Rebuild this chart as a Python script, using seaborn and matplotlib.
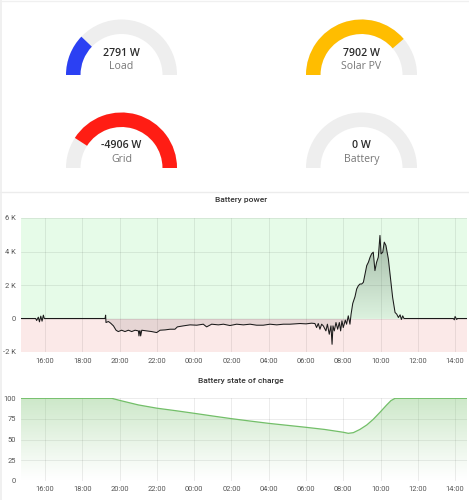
import numpy as np
import pandas as pd
import matplotlib
matplotlib.use("Agg")
import matplotlib.pyplot as plt
from matplotlib.patches import Wedge, PathPatch
import seaborn as sns

# ---------------- data ----------------
gauge_labels = ["Load", "Solar PV", "Grid", "Battery"]
gauge_values = [2791, 7902, -4906, 0]
gauge_min = [0, 0, -6000, -5000]
gauge_max = [11500, 10200, 0, 5000]
gauge_colors = ["#2b40f3", "#ffbd00", "#ff1d14", "#eeeeee"]

power_t = [14.71, 15.50, 15.55, 15.64, 15.70, 15.77, 15.84, 15.91, 15.96, 17.0, 18.5,
           19.22, 19.25, 19.27, 19.40, 19.52, 19.67, 19.81, 19.93, 20.11, 20.29, 20.47,
           20.65, 20.83, 21.01, 21.04, 21.07, 21.10, 21.13, 21.19, 21.45, 21.72, 21.99,
           22.17, 22.44, 22.71, 22.97, 23.10, 23.42, 23.78, 24.14, 24.49, 24.67, 24.94,
           25.30, 25.57, 25.92, 26.28, 26.64, 27.00, 27.35, 27.71, 28.07, 28.43, 28.79,
           29.14, 29.68, 30.00, 30.30, 30.48, 30.57, 30.66, 30.75, 30.84, 30.93, 31.07,
           31.15, 31.25, 31.34, 31.40, 31.45, 31.52, 31.61, 31.70, 31.79, 31.86, 31.93,
           32.00, 32.11, 32.18, 32.27, 32.36, 32.42, 32.51, 32.63, 32.72, 32.81, 32.90,
           32.99, 33.08, 33.17, 33.26, 33.35, 33.44, 33.52, 33.61, 33.70, 33.79, 33.88,
           33.97, 34.03, 34.12, 34.20, 34.29, 34.42, 34.54, 34.65, 34.78, 34.87, 34.96,
           35.05, 35.12, 35.19, 35.26, 36.50, 37.91, 37.96, 38.00, 38.09, 38.12, 38.64]
power_w = [0, 0, -120, 80, -200, 140, -160, 200, 0, 0, 0,
           0, 200, -240, -180, -280, -440, -700, -780, -700, -780, -700,
           -780, -700, -740, -1040, -740, -740, -1040, -700, -740, -780, -840,
           -700, -680, -640, -640, -500, -440, -380, -400, -340, -500, -340,
           -380, -340, -420, -340, -380, -340, -400, -400, -340, -380, -340,
           -340, -300, -320, -280, -300, -540, -300, -640, -340, -440, -740,
           -340, -940, -440, -1540, -440, -740, -240, -640, -240, -740, -140,
           -540, -100, -340, 160, -340, 260, 900, 1300, 1760, 1960, 2060,
           2060, 2160, 2660, 3160, 3360, 3660, 3860, 3960, 2860, 3360, 3660,
           4960, 3860, 3960, 4560, 4360, 3560, 2360, 1260, 360, 260, 60,
           220, -60, 160, 0, 0, 0, -80, 120, -60, 0, 0]

soc_t = [14.71, 19.58, 20.0, 21.0, 22.0, 23.0, 24.0, 25.0, 26.0, 27.0, 28.0, 29.0,
         30.0, 31.0, 32.0, 32.27, 32.54, 32.90, 33.26, 33.61, 33.97, 34.33, 34.56,
         34.78, 38.64]
soc_pct = [100, 100, 97.5, 92, 88, 85, 81.8, 78.5, 75.3, 72.4, 69.6, 67.2,
           64.8, 62.2, 58.8, 57.5, 58.3, 62.3, 67.6, 74.5, 83, 91.9, 97.2,
           100, 100]

x_ticks = [16, 18, 20, 22, 24, 26, 28, 30, 32, 34, 36, 38]
x_labels = ["16:00", "18:00", "20:00", "22:00", "00:00", "02:00", "04:00",
            "06:00", "08:00", "10:00", "12:00", "14:00"]
power_ticks = [-2000, 0, 2000, 4000, 6000]
power_labels = ["-2 K", "0", "2 K", "4 K", "6 K"]
soc_ticks = [0, 25, 50, 75, 100]
soc_labels = ["0", "25", "50", "75", "100"]

# ---------------- style ----------------
sns.set_style("white")
plt.rcParams["font.family"] = ["Roboto", "DejaVu Sans"]

W, H = 469, 500
fig = plt.figure(figsize=(W / 100, H / 100), dpi=100)
fig.patch.set_facecolor("white")

bg = fig.add_axes([0, 0, 1, 1])
bg.set_xlim(0, W)
bg.set_ylim(H, 0)
bg.axis("off")

# card borders / separator
bg.plot([0, W], [191.5, 191.5], color="#ececec", lw=1.0)
bg.plot([0.8, 0.8], [0, H], color="#eeeeee", lw=1.2)
bg.plot([0, W], [0.6, 0.6], color="#f0f0f0", lw=1.0)

# ---------------- gauges ----------------
centers = [(121.5, 75), (361.5, 75), (121.5, 168), (361.5, 168)]
r_out, width = 55.5, 14.5
for (cx, cy), lab, val, vmin, vmax, col in zip(centers, gauge_labels, gauge_values,
                                                gauge_min, gauge_max, gauge_colors):
    bg.add_patch(Wedge((cx, cy), r_out, 180, 360, width=width,
                       facecolor="#eeeeee", edgecolor="none"))
    anchor = min(max(0, vmin), vmax)
    f_a = (anchor - vmin) / (vmax - vmin)
    f_v = (val - vmin) / (vmax - vmin)
    f0, f1 = min(f_a, f_v), max(f_a, f_v)
    if f1 - f0 > 1e-6:
        a_start = 180 - 180 * f1
        a_end = 180 - 180 * f0
        bg.add_patch(Wedge((cx, cy), r_out, 360 - a_end, 360 - a_start, width=width,
                           facecolor=col, edgecolor="none"))
    bg.text(cx, cy - 22, f"{val} W", ha="center", va="center", fontsize=7.6,
            color="#2b2b2b", fontweight="semibold", family=["Open Sans", "DejaVu Sans"])
    bg.text(cx, cy - 8.5, lab, ha="center", va="center", fontsize=7.6,
            color="#777777", family=["Open Sans", "DejaVu Sans"])

# titles
bg.text(241, 200, "Battery power", ha="center", va="center", fontsize=6,
        color="#333333", fontweight="medium")
bg.text(241, 380.5, "Battery state of charge", ha="center", va="center", fontsize=6,
        color="#333333", fontweight="medium")

x_lo, x_hi = 14.71, 38.64


def px_axes(left, top, right, bottom):
    return fig.add_axes([left / W, 1 - bottom / H, (right - left) / W, (bottom - top) / H])


def style_axes(ax, yt, yl):
    ax.set_axisbelow(True)
    ax.grid(True, color="#000000", alpha=0.09, lw=0.6)
    for s in ax.spines.values():
        s.set_visible(False)
    ax.set_xticks(x_ticks)
    ax.set_xticklabels(x_labels)
    ax.set_yticks(yt)
    ax.set_yticklabels(yl)
    ax.tick_params(axis="both", length=0, labelsize=5.4, colors="#555555")
    ax.tick_params(axis="x", pad=4)
    ax.tick_params(axis="y", pad=3.5)
    ax.set_xlabel("")
    ax.set_ylabel("")


# ---------------- battery power ----------------
ax1 = px_axes(21, 218, 467, 352)
ax1.set_facecolor("none")
ax1.axhspan(0, 6000, color="#e6fbe8", zorder=0.1, lw=0)
ax1.axhspan(-2000, 0, color="#fbe9e8", zorder=0.1, lw=0)

pdf = pd.DataFrame({"t": power_t, "w": power_w})
fb = ax1.fill_between(pdf["t"], pdf["w"], 0, color="none", lw=0)
yy = np.linspace(-2000, 6000, 400)
grad = np.zeros((len(yy), 1, 4))
pos = yy >= 0
grad[pos, 0, :3] = (0.22, 0.33, 0.25)
grad[pos, 0, 3] = 0.06 + 0.32 * np.clip(yy[pos] / 5000, 0, 1)
grad[~pos, 0, :3] = (0.3, 0.25, 0.25)
grad[~pos, 0, 3] = 0.12
im = ax1.imshow(grad, extent=[x_lo, x_hi, -2000, 6000], origin="lower",
                aspect="auto", zorder=1, interpolation="bilinear")
clip = PathPatch(fb.get_paths()[0], transform=ax1.transData, facecolor="none",
                 edgecolor="none")
ax1.add_patch(clip)
im.set_clip_path(clip)
sns.lineplot(data=pdf, x="t", y="w", ax=ax1, color="#1a1a1a", lw=0.75, zorder=3,
             estimator=None, sort=False)
ax1.set_xlim(x_lo, x_hi)
ax1.set_ylim(-2000, 6000)
style_axes(ax1, power_ticks, power_labels)

# ---------------- state of charge ----------------
ax2 = px_axes(21, 398.3, 467, 480.7)
ax2.set_facecolor("none")
sdf = pd.DataFrame({"t": soc_t, "p": soc_pct})
fb2 = ax2.fill_between(sdf["t"], sdf["p"], 0, color="none", lw=0)
yy2 = np.linspace(0, 100, 300)
grad2 = np.zeros((len(yy2), 1, 4))
grad2[:, 0, :3] = (0.45, 0.75, 0.41)
grad2[:, 0, 3] = 0.36 * (yy2 / 100) ** 1.1
im2 = ax2.imshow(grad2, extent=[x_lo, x_hi, 0, 100], origin="lower", aspect="auto",
                 zorder=1, interpolation="bilinear")
clip2 = PathPatch(fb2.get_paths()[0], transform=ax2.transData, facecolor="none",
                  edgecolor="none")
ax2.add_patch(clip2)
im2.set_clip_path(clip2)
sns.lineplot(data=sdf, x="t", y="p", ax=ax2, color="#73bf69", lw=0.9, zorder=3,
             estimator=None, sort=False)
ax2.set_xlim(x_lo, x_hi)
ax2.set_ylim(0, 100)
style_axes(ax2, soc_ticks, soc_labels)

fig.savefig("out.png", dpi=100, facecolor="white")
